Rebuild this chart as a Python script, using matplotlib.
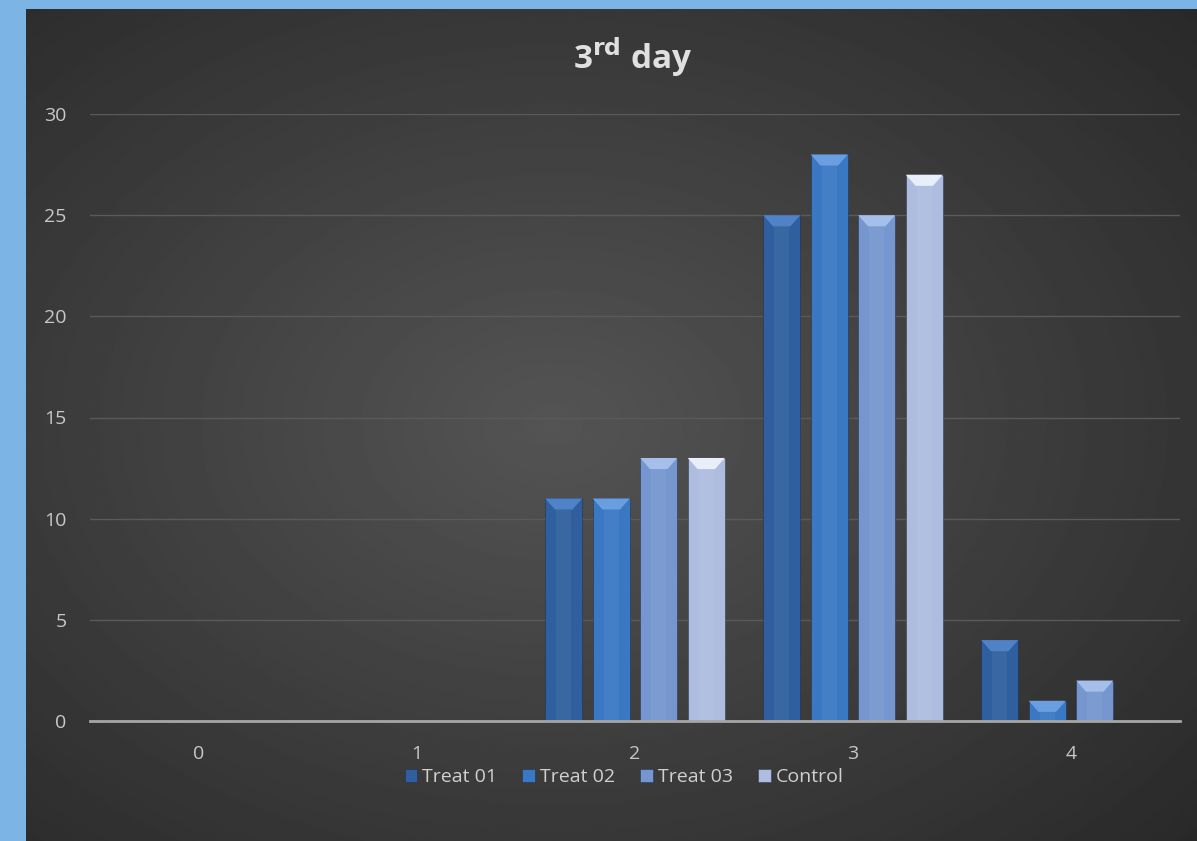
import numpy as np
import matplotlib.pyplot as plt
from matplotlib.patches import Polygon, Rectangle

# counts per score class on the 3rd day
scores = [0, 1, 2, 3, 4]
treat01 = [0, 0, 11, 25, 4]
treat02 = [0, 0, 11, 28, 1]
treat03 = [0, 0, 13, 25, 2]
control = [0, 0, 13, 27, 0]
yticks = [0, 5, 10, 15, 20, 25, 30]

series = [("Treat 01", treat01, "#2f5f9e", "#4f82c6"),
          ("Treat 02", treat02, "#3b78c4", "#6a9ee0"),
          ("Treat 03", treat03, "#7696cf", "#a5bfea"),
          ("Control", control, "#aebcdf", "#e8eefa")]

plt.rcParams['font.family'] = ['Open Sans', 'DejaVu Sans']

fig = plt.figure(figsize=(11.97, 8.41), dpi=100)
fig.patch.set_facecolor("#7cb4e6")

# dark radial background panel
bg = fig.add_axes([26 / 1197, 0, 1 - 26 / 1197, 1 - 9 / 841])
bg.set_axis_off()
yy, xx = np.mgrid[0:1:400j, 0:1:560j]
r = np.sqrt(((xx - 0.45) / 0.75) ** 2 + ((yy - 0.5) / 0.75) ** 2)
shade = np.clip(1 - r, 0, 1)
bg.imshow(0.16 + 0.17 * shade, cmap="gray", vmin=0, vmax=1,
          aspect="auto", extent=[0, 1, 0, 1], interpolation="bilinear")

ax = fig.add_axes([90 / 1197, 1 - 721 / 841, 1090 / 1197, 607 / 841])
ax.set_facecolor("none")

n = len(series)
width = 0.17
pitch = 0.218
bev_h = 0.55
bev_x = 0.045
for i, (name, vals, col, light) in enumerate(series):
    offs = (i - (n - 1) / 2) * pitch
    bars = ax.bar(np.array(scores) + offs, vals, width, color=col,
                  edgecolor=(0.1, 0.15, 0.25, 0.5), linewidth=0.6,
                  label=name, zorder=3)
    for b in bars:
        h = b.get_height()
        if h <= 0:
            continue
        x0, w = b.get_x(), b.get_width()
        bh = min(bev_h, h)
        # lighter bevelled top face
        ax.add_patch(Polygon([(x0, h), (x0 + w, h), (x0 + w - bev_x, h - bh),
                              (x0 + bev_x, h - bh)], closed=True,
                             facecolor=light, edgecolor="none", zorder=4))
        # highlight stripe down the middle of the bar
        ax.add_patch(Rectangle((x0 + w * 0.3, 0), w * 0.4, h - bh,
                               facecolor="white", alpha=0.05,
                               edgecolor="none", zorder=4))

ax.set_xlim(-0.5, 4.5)
ax.set_ylim(0, 30)
ax.set_xticks(scores)
ax.set_yticks(yticks)
ax.tick_params(colors="#c8c8c8", labelsize=14, length=0)
ax.tick_params(axis="x", pad=17)
ax.tick_params(axis="y", pad=17)
ax.grid(axis="y", color="#5a5a5a", linewidth=1, zorder=0)
for s in ["top", "right", "left"]:
    ax.spines[s].set_visible(False)
ax.spines["bottom"].set_color("#a6a6a6")
ax.spines["bottom"].set_linewidth(2)
ax.spines["bottom"].set_zorder(5)

fig.text(633 / 1197, 1 - 57 / 841, r"3$^{\mathbf{rd}}$ day", ha="center",
         va="center", fontsize=24, fontweight="bold", color="#e0e0e0")

leg = fig.legend(loc="center", bbox_to_anchor=(624 / 1197, 1 - 777 / 841),
                 ncol=4, frameon=False, fontsize=14, handlelength=0.65,
                 handleheight=0.65, handletextpad=0.25, columnspacing=1.3)
for t in leg.get_texts():
    t.set_color("#d0d0d0")

fig.savefig("out.png", dpi=100, facecolor=fig.get_facecolor())
